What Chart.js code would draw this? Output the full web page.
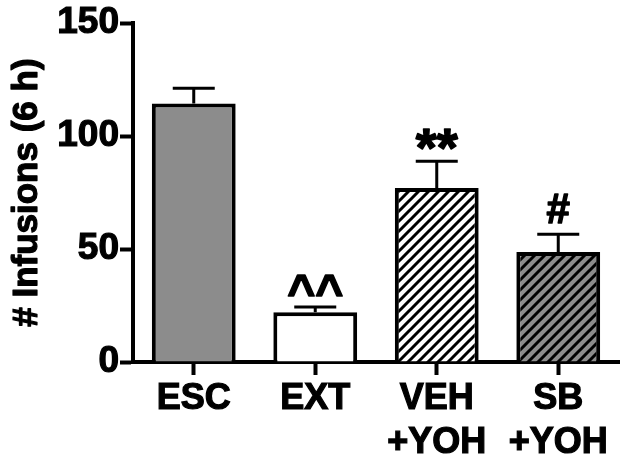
<!DOCTYPE html>
<html>
<head>
<meta charset="utf-8">
<script src="https://cdn.jsdelivr.net/npm/chart.js@4.4.1/dist/chart.umd.min.js"></script>
<style>
  html, body { margin: 0; padding: 0; background: #ffffff; }
  canvas { display: block; }
</style>
</head>
<body>
<canvas id="infusionChart" width="629" height="464"></canvas>
<script>
const groups = [['ESC'], ['EXT'], ['VEH', '+YOH'], ['SB', '+YOH']];
const means = [114.5, 22, 77, 48.7];
const errorTops = [121.2, 24.3, 88.9, 56.6];
const marks = ['', '^^', '**', '#'];
const markSizes = [36, 48, 54, 42];
const yTicks = [0, 50, 100, 150];
const yTitle = '# Infusions (6 h)';

const FONT = '"Liberation Sans", Arial, sans-serif';
const GREY = '#8c8c8c';

// diagonal "/" hatching on a small tile
function makeHatch(bg) {
    const tile = document.createElement('canvas');
    tile.width = 10;
    tile.height = 10;
    const t = tile.getContext('2d');
    t.fillStyle = bg;
    t.fillRect(0, 0, 10, 10);
    t.strokeStyle = '#000';
    t.lineWidth = 3;
    t.beginPath();
    t.moveTo(-5, 5); t.lineTo(5, -5);
    t.moveTo(0, 10); t.lineTo(10, 0);
    t.moveTo(5, 15); t.lineTo(15, 5);
    t.stroke();
    return t.createPattern(tile, 'repeat');
}

const ctx = document.getElementById('infusionChart').getContext('2d');

const fills = [GREY, '#ffffff', makeHatch('#ffffff'), makeHatch(GREY)];

// error bars (upper only) plus the significance marks
const errorBarPlugin = {
    id: 'errorBars',
    afterDatasetsDraw(chart) {
        const c = chart.ctx;
        const meta = chart.getDatasetMeta(0);
        const y = chart.scales.y;
        c.save();
        c.strokeStyle = '#000';
        c.fillStyle = '#000';
        meta.data.forEach((bar, i) => {
            const top = y.getPixelForValue(errorTops[i]);
            const base = y.getPixelForValue(means[i]);
            c.lineWidth = 3;
            c.beginPath();
            c.moveTo(bar.x, base);
            c.lineTo(bar.x, top);
            c.moveTo(bar.x - 21, top);
            c.lineTo(bar.x + 21, top);
            c.stroke();

            if (marks[i]) {
                c.font = 'bold ' + markSizes[i] + 'px ' + FONT;
                c.textAlign = 'center';
                c.textBaseline = 'alphabetic';
                const m = c.measureText(marks[i]);
                const ty = top - 10 - m.actualBoundingBoxDescent - 1;
                c.lineWidth = 1.5;
                c.lineJoin = 'round';
                c.fillText(marks[i], bar.x, ty);
                c.strokeText(marks[i], bar.x, ty);
            }
        });

        // heavy rotated y title, centred on the axis span
        const mid = (chart.chartArea.top + chart.chartArea.bottom) / 2;
        c.translate(27, mid);
        c.rotate(-Math.PI / 2);
        c.font = 'bold 35px ' + FONT;
        c.textAlign = 'center';
        c.textBaseline = 'middle';
        c.lineWidth = 1.2;
        c.fillText(yTitle, 0, 0);
        c.strokeText(yTitle, 0, 0);
        c.restore();
    }
};

const scoreChart = new Chart(ctx, {
    type: 'bar',
    data: {
        labels: groups,
        datasets: [{
            data: means,
            backgroundColor: fills,
            borderColor: '#000',
            borderWidth: 4,
            borderSkipped: 'start',
            barPercentage: 0.69,
            categoryPercentage: 1
        }]
    },
    options: {
        responsive: false,
        animation: false,
        layout: { padding: { top: 1, right: 10, left: 0, bottom: 0 } },
        plugins: {
            legend: { display: false },
            tooltip: { enabled: false }
        },
        scales: {
            x: {
                border: { display: true, color: '#000', width: 4 },
                grid: {
                    display: true,
                    offset: false,
                    drawOnChartArea: false,
                    drawTicks: true,
                    tickLength: 13,
                    tickWidth: 4,
                    tickColor: '#000'
                },
                ticks: {
                    color: '#000',
                    font: { family: FONT, size: 36, weight: 'bold', lineHeight: 1.22 },
                    textStrokeColor: '#000',
                    textStrokeWidth: 1.2,
                    padding: 2,
                    maxRotation: 0,
                    autoSkip: false
                },
                afterFit(scale) { scale.height = 102; }
            },
            y: {
                min: 0,
                max: 150,
                afterBuildTicks(scale) {
                    scale.ticks = yTicks.map(v => ({ value: v }));
                },
                border: { display: true, color: '#000', width: 4 },
                grid: {
                    display: true,
                    drawOnChartArea: false,
                    drawTicks: true,
                    tickLength: 13,
                    tickWidth: 4,
                    tickColor: '#000'
                },
                ticks: {
                    color: '#000',
                    font: { family: FONT, size: 37, weight: 'bold' },
                    textStrokeColor: '#000',
                    textStrokeWidth: 1.2,
                    padding: 1
                },
                title: { display: false },
                afterFit(scale) { scale.width = 133; }
            }
        }
    },
    plugins: [errorBarPlugin]
});
</script>
</body>
</html>
